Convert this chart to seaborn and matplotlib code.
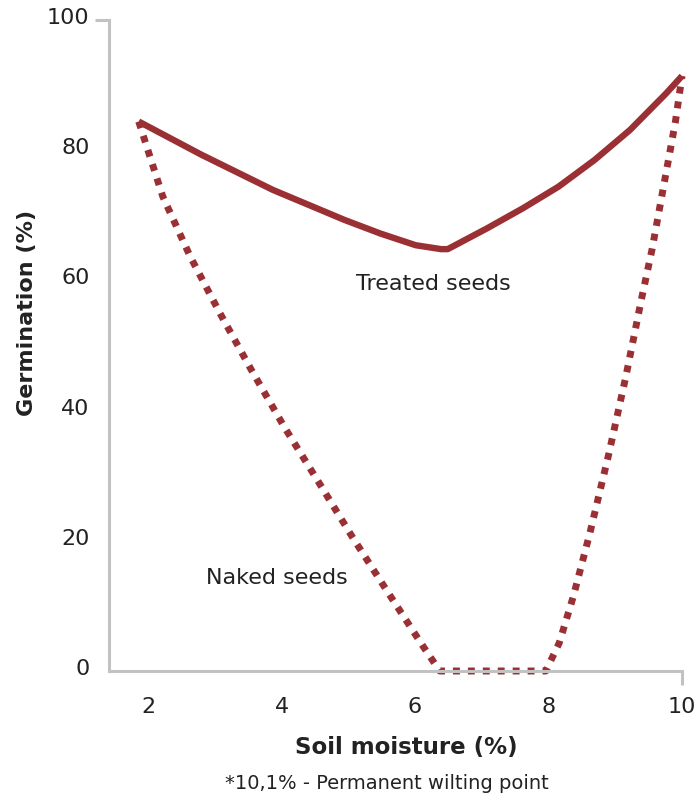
import matplotlib
matplotlib.use("Agg")
import matplotlib.pyplot as plt
import matplotlib.transforms as mtransforms
import pandas as pd
import seaborn as sns

# Data
treated_x = [1.86, 2.80, 3.87, 4.94, 5.48, 6.01, 6.39, 6.49, 7.08, 7.62,
             8.15, 8.69, 9.22, 9.76, 10.0]
treated_y = [84.4, 79.3, 73.9, 69.3, 67.2, 65.4, 64.8, 64.8, 68.0, 71.1,
             74.4, 78.5, 83.1, 88.7, 91.4]

naked_x = [1.86, 2.22, 2.63, 3.08, 3.55, 4.04, 4.55, 5.06, 5.58, 6.12, 6.37,
           7.96, 8.16, 8.37, 8.62, 8.90, 9.16, 9.40, 9.55, 9.90, 10.0]
naked_y = [84.4, 72.9, 63.7, 54.9, 46.2, 37.5, 29.1, 20.6, 12.3, 3.8, 0.0,
           0.0, 4.3, 11.4, 21.2, 33.2, 45.3, 57.5, 64.7, 84.3, 91.4]

x_ticks = [2, 4, 6, 8, 10]
y_ticks = [0, 20, 40, 60, 80, 100]

RED = "#9b3034"
GREY = "#c2c2c2"
TEXT = "#222222"

sns.set_style("white")
plt.rcParams["font.family"] = ["DejaVu Sans"]

treated = pd.DataFrame({"x": treated_x, "y": treated_y})
naked = pd.DataFrame({"x": naked_x, "y": naked_y})

fig = plt.figure(figsize=(6.97, 7.99), dpi=100)
ax = fig.add_axes([0.1564, 0.1602, 0.8221, 0.8148])

sns.lineplot(data=treated, x="x", y="y", sort=False, ax=ax, color=RED,
             linewidth=4.6, solid_capstyle="butt", solid_joinstyle="round",
             clip_on=False)
sns.lineplot(data=naked, x="x", y="y", sort=False, ax=ax, color=RED,
             linewidth=5.0, dash_capstyle="butt", clip_on=False,
             linestyle=(0, (1.0, 1.15)))

ax.set_xlim(1.415, 10)
ax.set_ylim(0, 100)

for side in ["top", "right"]:
    ax.spines[side].set_visible(False)
for side in ["left", "bottom"]:
    ax.spines[side].set_color(GREY)
    ax.spines[side].set_linewidth(2.2)

ax.set_xticks(x_ticks)
ax.set_yticks(y_ticks)
ax.set_xticklabels([str(v) for v in x_ticks])
ax.set_yticklabels([str(v) for v in y_ticks])
ax.tick_params(axis="both", which="major", length=0, labelsize=16,
               labelcolor=TEXT)
ax.tick_params(axis="x", which="major", pad=19)
ax.tick_params(axis="y", which="major", pad=14)

# single end ticks on the two spines (minor ticks sitting on majors)
ax.xaxis.remove_overlapping_locs = False
ax.yaxis.remove_overlapping_locs = False
ax.set_yticks([100], minor=True)
ax.set_xticks([10], minor=True)
ax.tick_params(which="minor", left=True, bottom=True, length=10, width=2.2,
               color=GREY, direction="out", labelleft=False,
               labelbottom=False)

offset = mtransforms.ScaledTranslation(0, 4 / 100, fig.dpi_scale_trans)
for lab in ax.get_yticklabels():
    lab.set_transform(lab.get_transform() + offset)

ax.set_xlabel("Soil moisture (%)", fontsize=16.5, fontweight="bold",
              color=TEXT)
ax.xaxis.set_label_coords(0.518, -0.1)
ax.set_ylabel("Germination (%)", fontsize=16, fontweight="bold",
              color=TEXT)
ax.yaxis.set_label_coords(-0.125, 0.55)

ax.text(6.27, 59.4, "Treated seeds", fontsize=16, color=TEXT,
        ha="center", va="center")
ax.text(3.93, 14.3, "Naked seeds", fontsize=16, color=TEXT,
        ha="center", va="center")

fig.text(0.555, 0.02, "*10,1% - Permanent wilting point", fontsize=14,
         color=TEXT, ha="center", va="center")

fig.savefig("out.png", dpi=100)
